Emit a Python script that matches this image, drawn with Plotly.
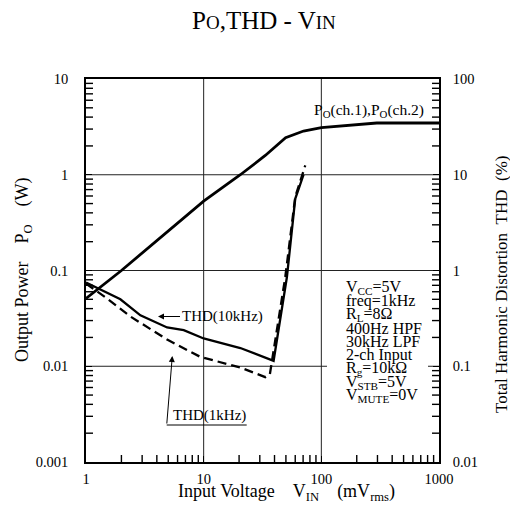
import math
import plotly.graph_objects as go

# ---- data ----
vin_po = [1, 2, 10, 20.5, 33.4, 49.7, 70.6, 100, 296, 1000]
po_w = [0.051, 0.1, 0.53, 1.0, 1.59, 2.44, 2.86, 3.1, 3.47, 3.47]

vin_thd10k = [1, 1.96, 2.9, 4.89, 6.77, 10, 20.5, 39.3, 51, 60, 70.6]
thd10k = [0.75, 0.50, 0.34, 0.254, 0.238, 0.195, 0.155, 0.114, 0.855, 5.6, 10]

vin_thd1k = [1, 1.51, 2.39, 4.89, 9.4, 20.5, 33.4, 36.5, 49.4, 60, 73]
thd1k = [0.73, 0.51, 0.33, 0.19, 0.125, 0.097, 0.077, 0.082, 0.855, 5.85, 12.5]

x_decades = [1, 10, 100, 1000]
y_decades = [0.001, 0.01, 0.1, 1, 10]
y2_decades = [0.01, 0.1, 1, 10, 100]

cond_lines = [
    "V<sub>CC</sub>=5V",
    "freq=1kHz",
    "R<sub>L</sub>=8Ω",
    "400Hz HPF",
    "30kHz LPF",
    "2-ch Input",
    "R<sub>g</sub>=10kΩ",
    "V<sub>STB</sub>=5V",
    "V<sub>MUTE</sub>=0V",
]

FONT = "Liberation Serif"
OFF = 8  # page body margin
W, H = 518 - OFF, 531 - OFF
ML, MR, MT, MB = 86 - OFF, 79, 79 - OFF, 69
PW, PH = W - ML - MR, H - MT - MB
TICK = 7  # minor tick length, px

def px(x):
    return (x - OFF - ML) / PW

def py(y):
    return (H - MB - (y - OFF)) / PH

fig = go.Figure()

# minor ticks (2..9 of each decade) drawn inside the frame
fx = 10 ** (TICK / (PW / 3))   # tick length as a factor along x (3 decades)
fy = 10 ** (TICK / (PH / 4))   # tick length as a factor along y (4 decades)
bx, by = [], []
for d in x_decades[:-1]:
    for k in range(2, 10):
        bx += [k * d, k * d, None]
        by += [y_decades[0], y_decades[0] * fy, None]
lx, ly = [], []
for d in y_decades[:-1]:
    for k in range(2, 10):
        lx += [x_decades[0], x_decades[0] * fx, None]
        ly += [k * d, k * d, None]
rx, ry = [], []
for d in y2_decades[:-1]:
    for k in range(2, 10):
        rx += [x_decades[-1] / fx, x_decades[-1], None]
        ry += [k * d, k * d, None]
tl = dict(color="black", width=1.4)
fig.add_trace(go.Scatter(x=bx, y=by, mode="lines", line=tl, yaxis="y",
                         showlegend=False, hoverinfo="skip"))
fig.add_trace(go.Scatter(x=lx, y=ly, mode="lines", line=tl, yaxis="y",
                         showlegend=False, hoverinfo="skip"))
fig.add_trace(go.Scatter(x=rx, y=ry, mode="lines", line=tl, yaxis="y2",
                         showlegend=False, hoverinfo="skip"))

fig.add_trace(go.Scatter(x=vin_po, y=po_w, mode="lines", yaxis="y",
                         line=dict(color="black", width=2.8), showlegend=False))
fig.add_trace(go.Scatter(x=vin_thd10k, y=thd10k, mode="lines", yaxis="y2",
                         line=dict(color="black", width=2.3), showlegend=False))
fig.add_trace(go.Scatter(x=vin_thd1k, y=thd1k, mode="lines", yaxis="y2",
                         line=dict(color="black", width=2.3, dash="9px,5px"), showlegend=False))

tickfont = dict(family=FONT, size=14.5, color="black")
common = dict(showline=True, linecolor="black", linewidth=1.5, zeroline=False,
              showgrid=False, ticks="inside", ticklen=6, tickwidth=1,
              tickcolor="black", tickfont=tickfont, tickmode="array")

fig.update_layout(
    width=W, height=H,
    margin=dict(l=ML, r=MR, t=MT, b=MB, autoexpand=False),
    paper_bgcolor="white", plot_bgcolor="rgba(0,0,0,0)",
    font=dict(family=FONT, color="black"),
    xaxis=dict(type="log", range=[0, 3], tickvals=x_decades,
               ticktext=[f"{v:g}" for v in x_decades], mirror=True,
               ticklabelstandoff=3, **common),
    yaxis=dict(type="log", range=[-3, 1], tickvals=y_decades,
               ticktext=[f"{v:g}" for v in y_decades], mirror=True,
               ticklabelstandoff=13, **common),
    yaxis2=dict(type="log", range=[-2, 2], tickvals=y2_decades,
                ticktext=[f"{v:g}" for v in y2_decades],
                overlaying="y", side="right", ticklabelstandoff=9, **common),
)

gl = dict(color="#222", width=1)
for v in x_decades[1:-1]:
    xp = math.log10(v) / 3
    fig.add_shape(type="line", xref="paper", yref="paper", x0=xp, x1=xp, y0=0, y1=1,
                  line=gl, layer="below")
for v in y_decades[1:-1]:
    yp = (math.log10(v) + 3) / 4
    fig.add_shape(type="line", xref="paper", yref="paper", x0=0, x1=1, y0=yp, y1=yp,
                  line=gl, layer="below")

# white background behind the condition box
fig.add_shape(type="rect", xref="paper", yref="paper",
              x0=px(327), x1=px(428), y0=py(405), y1=py(276),
              fillcolor="white", line=dict(width=0), layer="below")

def txt(text, x, y, size, **kw):
    d = dict(text=text, x=px(x), y=py(y), xref="paper", yref="paper",
             showarrow=False, xanchor="center", yanchor="middle",
             font=dict(family=FONT, size=size, color="black"))
    d.update(kw)
    return d

ann = []
ann.append(txt("P<span style='font-size:19px'>O</span>,THD - V<span style='font-size:19px'>IN</span>",
               263.5, 20, 25))
sp4 = "\u00a0" * 4
sp2 = "\u00a0" * 2
ann.append(txt("Input Voltage" + sp4 + "V<sub>IN</sub>" + sp4 + "(mV<sub>rms</sub>)", 286, 492, 18))
ann.append(txt("Output Power" + sp4 + "P<sub>O</sub>" + sp4 + "(W)", 23, 270, 18, textangle=-90))
ann.append(txt("Total Harmonic Distortion" + sp2 + "THD" + sp2 + "(%)", 501, 284, 17, textangle=-90))
ann.append(txt("P<sub>O</sub>(ch.1),P<sub>O</sub>(ch.2)", 369, 111, 15.5))
ann.append(dict(text="THD(10kHz)", x=px(158), y=py(316.5), xref="paper", yref="paper",
                ax=64, ay=0, showarrow=True, arrowhead=2, arrowsize=1.2, arrowwidth=1,
                arrowcolor="black", standoff=0, startstandoff=0,
                font=dict(family=FONT, size=15, color="black")))
ann.append(txt("THD(1kHz)", 209, 415, 15))
ann.append(dict(text="", x=px(172.3), y=py(356), xref="paper", yref="paper",
                ax=-5.6, ay=69, showarrow=True, arrowhead=2, arrowsize=1.2, arrowwidth=1,
                arrowcolor="black", standoff=0))
fig.add_shape(type="line", xref="paper", yref="paper",
              x0=px(166.7), x1=px(246.7), y0=py(425), y1=py(425),
              line=dict(color="black", width=1))
for i, t in enumerate(cond_lines):
    ann.append(txt(t, 344, 287.5 + i * 13.5, 16, xanchor="left"))
fig.update_layout(annotations=ann)

fig.write_html("out.html")
